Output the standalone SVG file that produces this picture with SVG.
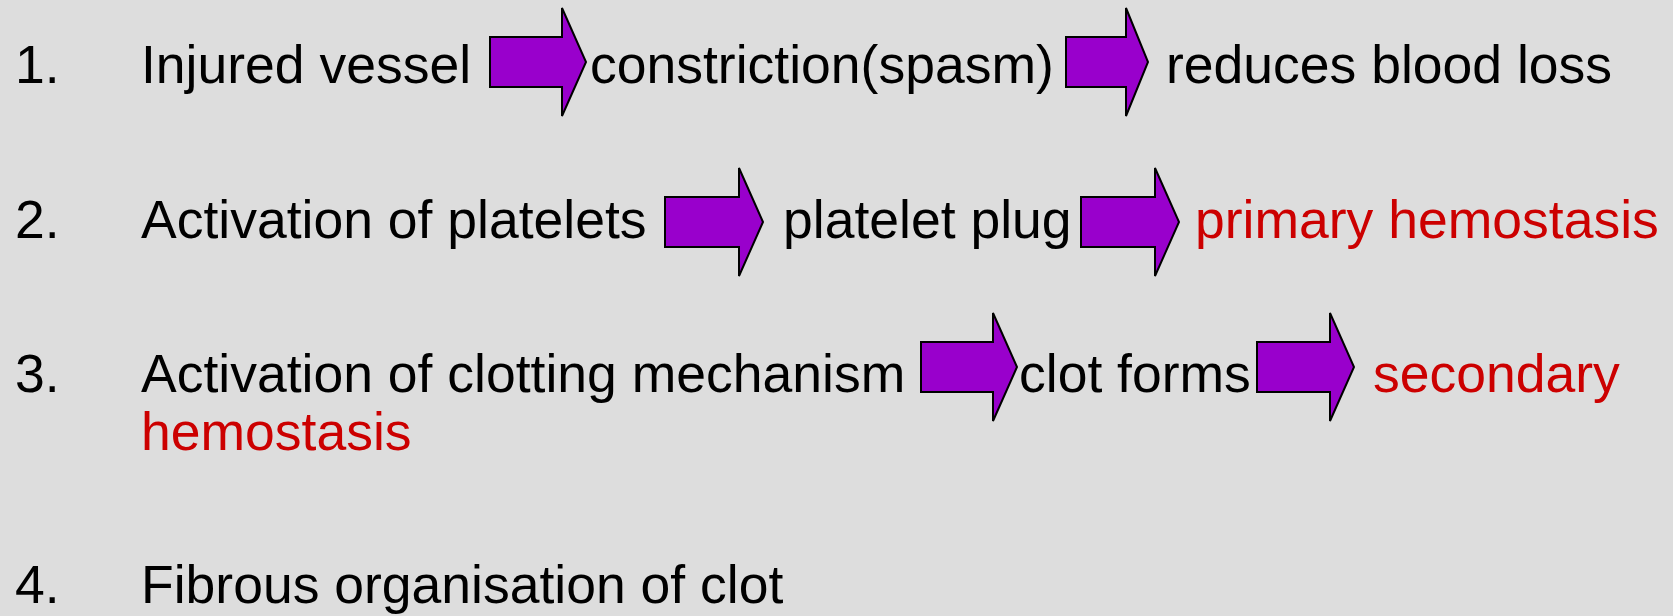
<svg xmlns="http://www.w3.org/2000/svg" width="1673" height="616" viewBox="0 0 1673 616">
  <style>
    text { font-family: "Liberation Sans", Arial, sans-serif; font-size: 53.5px; fill: #000000; }
    text.hl { fill: #CC0000; }
    .arrow { fill: #9900CC; stroke: #000000; stroke-width: 2; stroke-linejoin: miter; }
  </style>
  <rect x="0" y="0" width="1673" height="616" fill="#DDDDDD"/>

  <!-- step numbers -->
  <g id="numbers">
    <text x="15" y="83">1.</text>
    <text x="15" y="238">2.</text>
    <text x="15" y="392">3.</text>
    <text x="15" y="603">4.</text>
  </g>

  <!-- step 1 -->
  <g id="injured-vessel"><text x="141" y="83">Injured vessel</text></g>
  <g id="constriction"><text x="590" y="83">constriction(spasm)</text></g>
  <g id="reduces-blood-loss"><text x="1166" y="83">reduces blood loss</text></g>

  <!-- step 2 -->
  <g id="platelet-activation"><text x="141" y="238">Activation of platelets</text></g>
  <g id="platelet-plug"><text x="783" y="238">platelet plug</text></g>
  <g id="primary-hemostasis"><text class="hl" x="1195" y="238">primary hemostasis</text></g>

  <!-- step 3 -->
  <g id="clotting-activation"><text x="141" y="392">Activation of clotting mechanism</text></g>
  <g id="clot-forms"><text x="1019" y="392">clot forms</text></g>
  <g id="secondary-hemostasis">
    <text class="hl" x="1373" y="392">secondary</text>
    <text class="hl" x="141" y="450">hemostasis</text>
  </g>

  <!-- step 4 -->
  <g id="fibrous-organisation"><text x="141" y="603">Fibrous organisation of clot</text></g>

  <!-- block arrows between stages -->
  <g id="connectors">
    <path class="arrow" d="M490,37 H562 V8 L586,62 L562,116 V87 H490 Z"/>
    <path class="arrow" d="M1066,37 H1126 V8 L1148,62 L1126,116 V87 H1066 Z"/>
    <path class="arrow" d="M665,197 H739 V168 L763,222 L739,276 V247 H665 Z"/>
    <path class="arrow" d="M1081,197 H1155 V168 L1179,222 L1155,276 V247 H1081 Z"/>
    <path class="arrow" d="M921,342 H993 V313 L1017,367 L993,421 V392 H921 Z"/>
    <path class="arrow" d="M1257,342 H1330 V313 L1354,367 L1330,421 V392 H1257 Z"/>
  </g>
</svg>
